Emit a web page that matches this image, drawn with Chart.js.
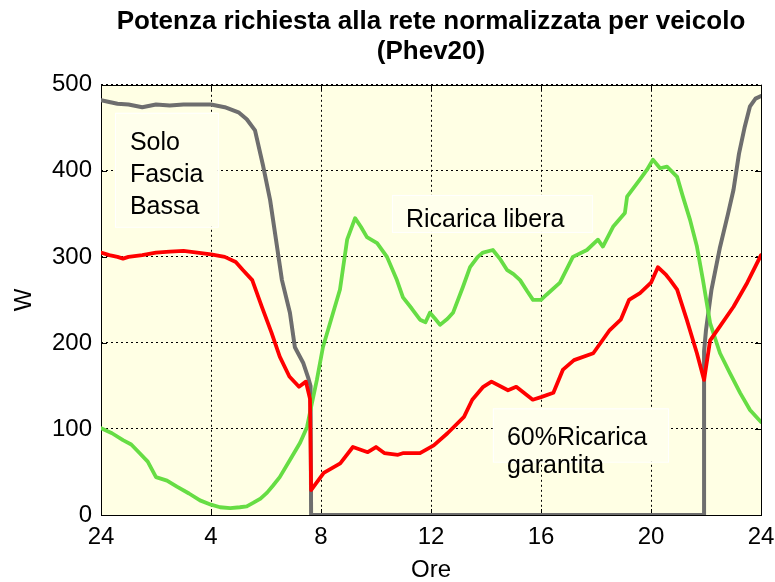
<!DOCTYPE html>
<html><head><meta charset="utf-8">
<script src="https://cdn.jsdelivr.net/npm/chart.js@4.4.1/dist/chart.umd.min.js"></script>
<style>html,body{margin:0;padding:0;background:#fff;}#wrap{width:775px;height:582px;}</style>
</head><body><div id="wrap"><canvas id="c" width="775" height="582"></canvas></div>
<script>
// Tick values and labels
const hourTicks = [0, 4, 8, 12, 16, 20, 24];
const hourTickLabels = ['24', '4', '8', '12', '16', '20', '24'];
const wTicks = [0, 100, 200, 300, 400, 500];

// Solo Fascia Bassa (gray)
const soloHours = [0,0.3,0.6,1.0,1.5,2.0,2.5,3.0,3.5,4.0,4.5,5.0,5.3,5.6,5.9,6.15,6.4,6.58,6.87,7.05,7.35,7.53,7.62,7.64,21.93,21.93,22.0,22.2,22.5,22.8,23.0,23.2,23.4,23.6,23.8,24];
const soloW = [482,480,478,477,474,477,476,477,477,477,474,468,460,447,405,366,312,273,235,195,177,160,150,0,0,190,215,262,310,350,378,420,450,475,484,487];

// 60% Ricarica garantita (red)
const garHours = [0,0.3,0.6,0.8,1.0,1.5,2.0,2.5,3.0,3.5,4.0,4.5,4.9,5.15,5.5,5.85,6.2,6.5,6.85,7.2,7.45,7.6,7.64,8.1,8.7,9.16,9.7,10.0,10.3,10.8,11.0,11.6,12.1,12.6,13.2,13.5,13.9,14.2,14.8,15.1,15.7,16.0,16.45,16.8,17.2,17.9,18.5,18.9,19.2,19.6,20.0,20.25,20.55,20.7,20.95,21.3,21.67,21.93,22.15,22.5,23.0,23.5,24];
const garW = [305,302,300,298,300,302,305,306,307,305,303,300,294,285,273,242,212,184,161,149,155,135,29,49,60,79,73,79,72,70,72,72,81,95,114,134,149,155,145,149,134,137,142,169,180,188,215,227,250,258,270,288,279,273,262,227,188,157,203,219,242,270,302];

// Ricarica libera (green)
const libHours = [0,0.4,0.8,1.1,1.4,1.7,2.0,2.4,2.76,3.2,3.6,4.0,4.33,4.7,5.05,5.3,5.53,5.8,6.04,6.25,6.5,6.87,7.24,7.49,7.67,7.85,8.07,8.44,8.69,8.95,9.24,9.45,9.67,10.04,10.4,10.76,10.98,11.3,11.6,11.8,11.96,12.15,12.33,12.6,12.8,13.16,13.42,13.7,13.89,14.25,14.5,14.76,15.0,15.24,15.5,15.71,16.0,16.2,16.69,17.16,17.67,18.07,18.25,18.62,19.05,19.13,19.6,19.85,20.07,20.33,20.58,20.95,21.16,21.42,21.67,21.89,22.15,22.51,22.87,23.24,23.6,24];
const libW = [101,95,87,82,72,62,44,40,33,25,17,12,9,8,9,10,14,19,26,34,44,64,84,102,130,157,195,235,262,320,345,335,323,316,300,273,253,240,227,224,235,228,221,228,235,265,288,300,305,308,298,285,280,273,260,250,250,256,270,300,308,320,312,335,351,370,390,401,413,403,405,393,370,343,312,273,223,188,165,142,122,108];

const FONT = "'Liberation Sans', Arial, Helvetica, sans-serif";
const pts = (xs, ys) => xs.map((x, i) => ({x: x, y: ys[i]}));

// Text annotations (anchored in data coordinates)
const notes = [
  {box: [0.51, 467.5, 4.25, 335], x: 1.05, lines: [['Solo', 432.6], ['Fascia', 395], ['Bassa', 358]]},
  {box: [10.58, 372, 17.85, 329], x: 11.09, lines: [['Ricarica libera', 343]]},
  {box: [14.25, 124, 20.62, 62], x: 14.76, lines: [['60%Ricarica', 89.5], ['garantita', 57]]}
];

const decor = {
  id: 'decor',
  beforeDraw(chart) {
    const {ctx, chartArea: a} = chart;
    ctx.save();
    ctx.fillStyle = '#FFFFE4';
    ctx.fillRect(a.left, a.top, a.right - a.left, a.bottom - a.top);
    ctx.restore();
  },
  beforeDatasetsDraw(chart) {
    const {ctx, chartArea: a, scales: {x, y}} = chart;
    ctx.save();
    notes.forEach(n => {
      const x0 = x.getPixelForValue(n.box[0]), y0 = y.getPixelForValue(n.box[1]);
      const x1 = x.getPixelForValue(n.box[2]), y1 = y.getPixelForValue(n.box[3]);
      ctx.fillStyle = '#FFFFEC';
      ctx.fillRect(x0, y0, x1 - x0, y1 - y0);
      ctx.strokeStyle = '#FFFFFF';
      ctx.lineWidth = 1;
      ctx.strokeRect(x0 + 0.5, y0 + 0.5, x1 - x0, y1 - y0);
    });
    ctx.strokeStyle = '#000';
    ctx.lineWidth = 1;
    ctx.setLineDash([]);
    ctx.strokeRect(Math.round(a.left) + 0.5, Math.round(a.top) + 0.5, Math.round(a.right - a.left), Math.round(a.bottom - a.top));
    ctx.beginPath();
    hourTicks.forEach(v => {
      const px = Math.round(x.getPixelForValue(v)) + 0.5;
      ctx.moveTo(px, a.bottom); ctx.lineTo(px, a.bottom - 6);
      ctx.moveTo(px, a.top); ctx.lineTo(px, a.top + 6);
    });
    wTicks.forEach(v => {
      const py = Math.round(y.getPixelForValue(v)) + 0.5;
      ctx.moveTo(a.left, py); ctx.lineTo(a.left + 6, py);
      ctx.moveTo(a.right, py); ctx.lineTo(a.right - 6, py);
    });
    ctx.stroke();
    ctx.restore();
  },
  afterDatasetsDraw(chart) {
    const {ctx, scales: {x, y}} = chart;
    ctx.save();
    ctx.fillStyle = '#000';
    ctx.font = '25px ' + FONT;
    ctx.textBaseline = 'middle';
    ctx.textAlign = 'left';
    notes.forEach(n => {
      n.lines.forEach(([t, v]) => ctx.fillText(t, x.getPixelForValue(n.x), y.getPixelForValue(v)));
    });
    ctx.restore();
  }
};

new Chart(document.getElementById('c'), {
  type: 'line',
  data: {
    datasets: [
      {label: '60%Ricarica garantita', data: pts(garHours, garW), borderColor: '#FF0000', borderWidth: 3.8, order: 1},
      {label: 'Ricarica libera', data: pts(libHours, libW), borderColor: '#66DD44', borderWidth: 3.8, order: 2},
      {label: 'Solo Fascia Bassa', data: pts(soloHours, soloW), borderColor: '#6E6E6E', borderWidth: 4, order: 3}
    ]
  },
  options: {
    responsive: false,
    animation: false,
    elements: {point: {radius: 0}, line: {tension: 0, fill: false, borderJoinStyle: 'round', borderCapStyle: 'round'}},
    layout: {padding: {left: 0, right: 14, top: 0, bottom: 0}},
    plugins: {
      legend: {display: false},
      tooltip: {enabled: false},
      title: {
        display: true, fullSize: false,
        text: ['Potenza richiesta alla rete normalizzata per veicolo', '(Phev20)'],
        color: '#000',
        font: {family: FONT, size: 26, weight: 'bold', lineHeight: 1.15},
        padding: {top: 7, bottom: 18}
      }
    },
    scales: {
      x: {
        type: 'linear', min: 0, max: 24,
        afterBuildTicks: s => { s.ticks = hourTicks.map(v => ({value: v})); },
        afterFit: s => { s.height = 67; s.paddingLeft = 0; s.paddingRight = 0; },
        ticks: {
          autoSkip: false, maxRotation: 0, padding: 8, color: '#000',
          font: {family: FONT, size: 24},
          callback: (v) => hourTickLabels[hourTicks.indexOf(v)]
        },
        grid: {color: '#000', lineWidth: 1, drawTicks: false},
        border: {display: false, dash: [2, 3]},
        title: {display: true, text: 'Ore', color: '#000', font: {family: FONT, size: 24, lineHeight: 1}, padding: {top: 0, bottom: 0}}
      },
      y: {
        min: 0, max: 500,
        afterBuildTicks: s => { s.ticks = wTicks.map(v => ({value: v})); },
        afterFit: s => { s.width = 101; s.paddingTop = 0; s.paddingBottom = 0; },
        ticks: {padding: 9, color: '#000', font: {family: FONT, size: 24}},
        grid: {color: '#000', lineWidth: 1, drawTicks: false},
        border: {display: false, dash: [2, 3]},
        title: {display: true, text: 'W', color: '#000', font: {family: FONT, size: 24, lineHeight: 1.2}, padding: {top: 10, bottom: 0}}
      }
    }
  },
  plugins: [decor]
});
</script>
</body></html>
